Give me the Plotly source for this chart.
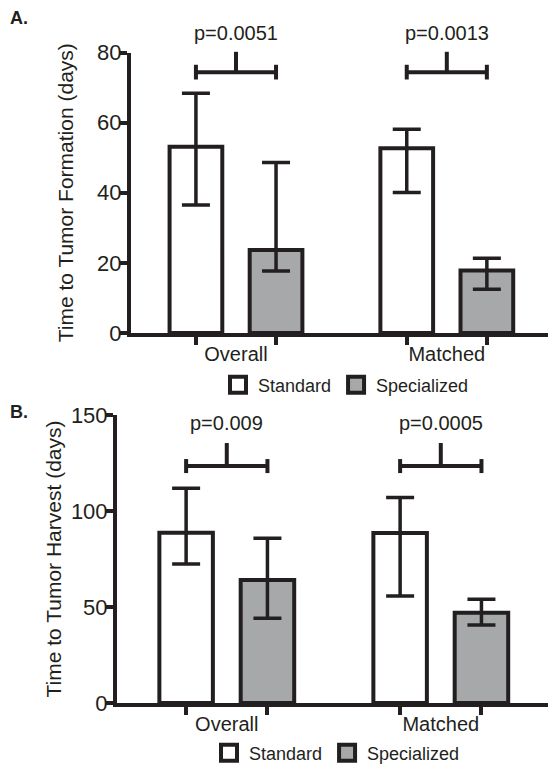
import plotly.graph_objects as go

# ---------------- data ----------------
categories = ["Overall", "Matched"]
series_names = ["Standard", "Specialized"]

# Panel A: Time to Tumor Formation (days)
a_standard_mean = [53.1, 52.7]
a_standard_upper = [68.4, 58.1]
a_standard_lower = [36.5, 40.1]
a_special_mean = [23.7, 17.8]
a_special_upper = [48.6, 21.3]
a_special_lower = [17.7, 12.5]
a_pvalues = ["p=0.0051", "p=0.0013"]
a_yticks = [0, 20, 40, 60, 80]

# Panel B: Time to Tumor Harvest (days)
b_standard_mean = [88.7, 88.5]
b_standard_upper = [111.8, 107.0]
b_standard_lower = [72.4, 55.7]
b_special_mean = [64.1, 47.0]
b_special_upper = [85.8, 54.0]
b_special_lower = [44.1, 40.6]
b_pvalues = ["p=0.009", "p=0.0005"]
b_yticks = [0, 50, 100, 150]

# ---------------- style ----------------
W, H = 558, 771
PAGE_OFFSET = 8  # default body margin of the html page
INK = "#231f20"
GRAY = "#a6a8aa"
FILLS = ["white", GRAY]
FONT = "Liberation Sans, Arial, Helvetica, sans-serif"
BARGAP = 0.24
BARGROUPGAP = 0.342
HALF_SEP = (1 - BARGAP) / 4  # distance of each bar centre from group centre

xpos = list(range(len(categories)))


def px_x(p):
    return (p - PAGE_OFFSET) / W


def px_y(p):
    return 1 - (p - PAGE_OFFSET) / H


fig = go.Figure()


def add_panel(idx, std_mean, std_up, std_lo, spc_mean, spc_up, spc_lo, legend_name):
    xa = "x" if idx == 1 else "x2"
    ya = "y" if idx == 1 else "y2"
    for name, mean, up, lo, fill in [
        (series_names[0], std_mean, std_up, std_lo, FILLS[0]),
        (series_names[1], spc_mean, spc_up, spc_lo, FILLS[1]),
    ]:
        fig.add_trace(go.Bar(
            x=xpos, y=mean, name=name, xaxis=xa, yaxis=ya,
            showlegend=False,
            marker=dict(color=fill, line=dict(color=INK, width=4)),
            error_y=dict(type="data", symmetric=False,
                         array=[u - m for u, m in zip(up, mean)],
                         arrayminus=[m - l for m, l in zip(mean, lo)],
                         color=INK, thickness=3.5, width=14),
            hoverinfo="skip",
        ))
    # legend entries with larger square swatches
    for name, fill in zip(series_names, FILLS):
        fig.add_trace(go.Scatter(
            x=[None], y=[None], mode="markers", name=name, xaxis=xa, yaxis=ya,
            legend=legend_name, showlegend=True,
            marker=dict(symbol="square", size=16, color=fill, line=dict(color=INK, width=4)),
            hoverinfo="skip",
        ))


add_panel(1, a_standard_mean, a_standard_upper, a_standard_lower,
          a_special_mean, a_special_upper, a_special_lower, "legend")
add_panel(2, b_standard_mean, b_standard_upper, b_standard_lower,
          b_special_mean, b_special_upper, b_special_lower, "legend2")

shapes = []
annotations = []


def add_brackets(xref, yref, ymax, pvals, y_line, y_top, cap, y_text):
    for c, p in zip(xpos, pvals):
        x0, x1 = c - HALF_SEP, c + HALF_SEP
        ln = dict(color=INK, width=4)
        f = lambda v: v / ymax
        shapes.append(dict(type="line", xref=xref, yref=yref + " domain",
                           x0=x0, x1=x1, y0=f(y_line), y1=f(y_line), line=ln))
        for xe in (x0, x1):
            shapes.append(dict(type="line", xref=xref, yref=yref + " domain",
                               x0=xe, x1=xe, y0=f(y_line - cap), y1=f(y_line + cap), line=ln))
        shapes.append(dict(type="line", xref=xref, yref=yref + " domain",
                           x0=c, x1=c, y0=f(y_line), y1=f(y_top), line=ln))
        annotations.append(dict(text=p, xref=xref, yref=yref + " domain", x=c, y=f(y_text),
                                showarrow=False, xanchor="center", yanchor="middle",
                                font=dict(size=20, color=INK, family=FONT)))


add_brackets("x", "y", 80, a_pvalues, 74.4, 80.2, 2.1, 85.6)
add_brackets("x2", "y2", 150, b_pvalues, 123.4, 135.4, 3.65, 145.8)

annotations.append(dict(text="<b>A.</b>", xref="paper", yref="paper", x=px_x(8), y=px_y(18),
                        showarrow=False, xanchor="left", yanchor="middle",
                        font=dict(size=18, color=INK, family=FONT)))
annotations.append(dict(text="<b>B.</b>", xref="paper", yref="paper", x=px_x(8), y=px_y(412),
                        showarrow=False, xanchor="left", yanchor="middle",
                        font=dict(size=18, color=INK, family=FONT)))


def xaxis_cfg(domain, rng):
    return dict(domain=domain, range=rng, showgrid=False, zeroline=False,
                showline=True, linecolor=INK, linewidth=4,
                tickmode="array", tickvals=xpos, ticktext=categories, ticks="",
                tickfont=dict(size=20, color=INK, family=FONT),
                minor=dict(tickmode="array",
                           tickvals=[c + s for c in xpos for s in (-HALF_SEP, HALF_SEP)],
                           ticks="outside", ticklen=8, tickwidth=3.5, tickcolor=INK),
                automargin=False, fixedrange=True)


def yaxis_cfg(domain, rng, ticks, title, anchor, standoff):
    return dict(domain=domain, range=rng, anchor=anchor, showgrid=False, zeroline=False,
                showline=True, linecolor=INK, linewidth=4,
                tickmode="array", tickvals=ticks, ticks="outside", ticklen=7,
                tickwidth=3.5, tickcolor=INK, ticklabelstandoff=-6,
                tickfont=dict(size=22, color=INK, family=FONT),
                title=dict(text=title, font=dict(size=21, color=INK, family=FONT),
                           standoff=standoff),
                automargin=False, fixedrange=True)


fig.update_layout(
    width=W, height=H,
    margin=dict(l=0, r=0, t=0, b=0, autoexpand=False),
    paper_bgcolor="white", plot_bgcolor="white",
    barmode="group", bargap=BARGAP, bargroupgap=BARGROUPGAP,
    font=dict(family=FONT, color=INK),
    xaxis=xaxis_cfg([px_x(131), px_x(548)], [-0.498, 1.480]),
    yaxis=yaxis_cfg([px_y(333), px_y(52.5)], [0, 80], a_yticks,
                    "Time to Tumor Formation (days)", "x", 19),
    xaxis2=xaxis_cfg([px_x(117), px_x(548)], [-0.513, 1.501]),
    yaxis2=yaxis_cfg([px_y(703), px_y(415)], [0, 150], b_yticks,
                     "Time to Tumor Harvest (days)", "x2", 5),
    legend=dict(orientation="h", x=px_x(346), y=px_y(385), xanchor="center", yanchor="middle",
                font=dict(size=18, color=INK, family=FONT), bgcolor="rgba(0,0,0,0)"),
    legend2=dict(orientation="h", x=px_x(337), y=px_y(753), xanchor="center", yanchor="middle",
                 font=dict(size=18, color=INK, family=FONT), bgcolor="rgba(0,0,0,0)"),
    shapes=shapes, annotations=annotations,
)
fig.update_layout(xaxis2=dict(anchor="y2"))

fig.write_html("out.html")
